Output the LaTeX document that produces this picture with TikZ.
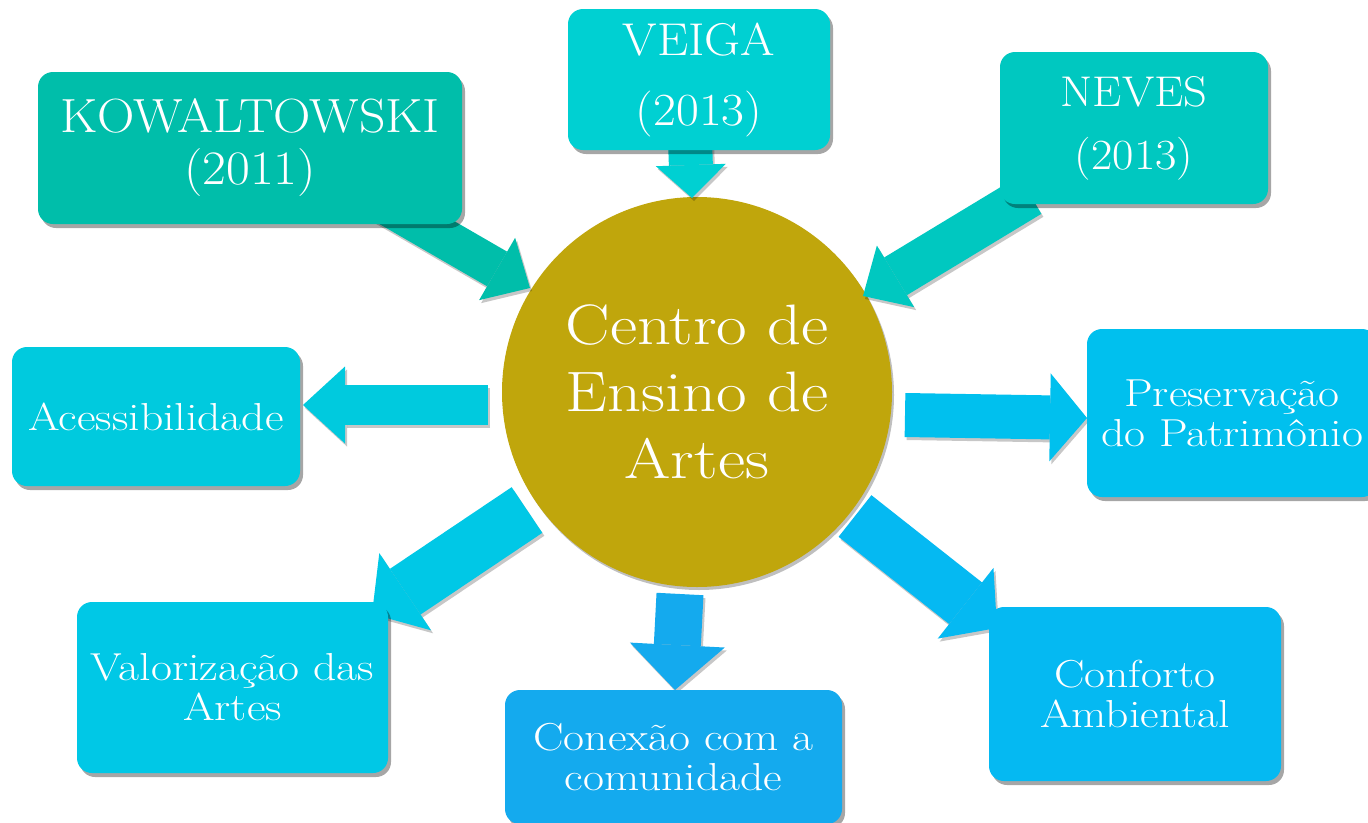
\documentclass[tikz,border=0pt]{standalone}
\usepackage{fontspec}
\setmainfont{Latin Modern Roman}[FakeStretch=1.17]
\newfontfamily\capsfont{Latin Modern Roman}[FakeStretch=1.08]
\usetikzlibrary{arrows.meta,shadows}
\definecolor{ckow}{RGB}{0,190,170}
\definecolor{cveiga}{RGB}{0,208,210}
\definecolor{cneves}{RGB}{0,200,192}
\definecolor{cacess}{RGB}{0,202,222}
\definecolor{cpres}{RGB}{0,192,238}
\definecolor{cvalor}{RGB}{0,200,230}
\definecolor{cconex}{RGB}{20,170,238}
\definecolor{cconf}{RGB}{5,185,242}
\definecolor{cgold}{RGB}{192,166,12}
\newcommand\fsz[2]{\fontsize{#1}{#2}\selectfont}
\newcommand\barrow[6]{%
  \draw[line width=#3, -{Triangle[width=#4,length=#5,line width=0pt]}, black, opacity=0.22,
        transform canvas={shift={(2pt,-3pt)}}] (#1) -- (#2);
  \draw[line width=#3, -{Triangle[width=#4,length=#5,line width=0pt]}, #6] (#1) -- (#2);}
\tikzset{
  box/.style={rounded corners=15pt, inner sep=0pt, align=center, text=white,
    drop shadow={shadow xshift=3pt,shadow yshift=-4pt,opacity=.35,fill=black}},
  small/.style={font=\fsz{39}{40}},
}
\begin{document}
\begin{tikzpicture}[x=1pt,y=-1pt]
\useasboundingbox (0,0) rectangle (1368,822);
\fill[white] (0,0) rectangle (1368,822);
% centre
\node[circle, fill=cgold, minimum size=390pt, inner sep=0pt, text=white, align=center,
  font=\fsz{57}{67},
  drop shadow={shadow xshift=2pt,shadow yshift=-3pt,opacity=.25,fill=black}]
  (c) at (697,392) {Centro de\\Ensino de\\Artes};
% arrow coordinates
\coordinate (kt) at (383,203); \coordinate (kh) at (530,288);
\coordinate (vt) at (690,140); \coordinate (vh) at (692,198);
\coordinate (nt) at (1030,195); \coordinate (nh) at (863,296);
\coordinate (at) at (488,405); \coordinate (ah) at (303,405);
\coordinate (pt) at (905,415); \coordinate (ph) at (1087,418);
\coordinate (lt) at (527,510); \coordinate (lh) at (372,614);
\coordinate (ct) at (680,594); \coordinate (ch) at (675,690);
\coordinate (ft) at (855,516); \coordinate (fh) at (997,628);
\barrow{kt}{kh}{40pt}{72pt}{38pt}{ckow}
\barrow{vt}{vh}{44pt}{70pt}{33pt}{cveiga}
\barrow{nt}{nh}{44pt}{72pt}{38pt}{cneves}
\barrow{at}{ah}{40pt}{77pt}{42pt}{cacess}
\barrow{pt}{ph}{44pt}{88pt}{37pt}{cpres}
\barrow{lt}{lh}{55pt}{93pt}{40pt}{cvalor}
\barrow{ct}{ch}{47pt}{95pt}{45pt}{cconex}
\barrow{ft}{fh}{53pt}{90pt}{40pt}{cconf}
% boxes
\node[box, fill=ckow, minimum width=424pt, minimum height=152pt, font=\capsfont\fsz{48}{52}]
  (kow) at (250,148) {KOWALTOWSKI\\(2011)};
\node[box, fill=cveiga, minimum width=262pt, minimum height=141pt, font=\capsfont\fsz{46}{70}]
  (veiga) at (699,79.5) {VEIGA\\(2013)};
\node[box, fill=cneves, minimum width=268pt, minimum height=152pt, font=\capsfont\fsz{43}{63}]
  (neves) at (1134,128) {NEVES\\(2013)};
\node[box, small, fill=cacess, minimum width=288pt, minimum height=139pt]
  (acess) at (156,416.5) {Acessibilidade};
\node[box, small, fill=cpres, minimum width=290pt, minimum height=168pt]
  (pres) at (1232,413) {Preservação\\do Patrimônio};
\node[box, small, fill=cvalor, minimum width=311pt, minimum height=171pt]
  (valor) at (232.5,687.5) {Valorização das\\Artes};
\node[box, small, fill=cconex, minimum width=337pt, minimum height=134pt]
  (conex) at (673.5,757) {Conexão com a\\comunidade};
\node[box, small, fill=cconf, minimum width=292pt, minimum height=174pt]
  (conf) at (1135,694) {Conforto\\Ambiental};
\end{tikzpicture}
\end{document}
